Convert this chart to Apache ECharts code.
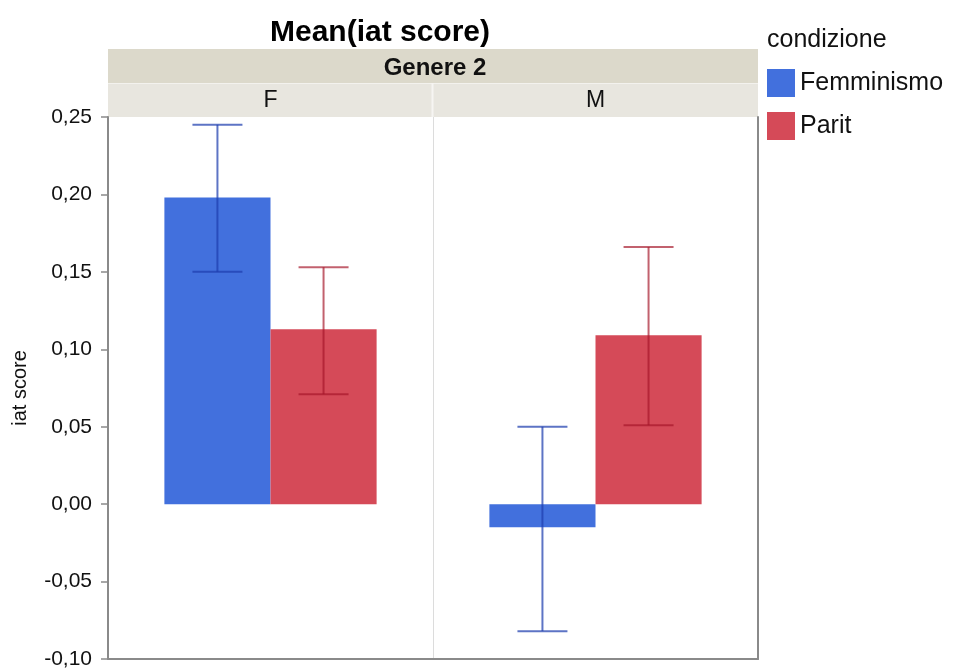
<!DOCTYPE html>
<html>
<head>
<meta charset="utf-8">
<title>Mean(iat score)</title>
<script src="https://cdn.jsdelivr.net/npm/echarts@6/dist/echarts.min.js"></script>
<style>
  html, body { margin: 0; padding: 0; background: #fff; }
  #chart { width: 953px; height: 668px; }
</style>
</head>
<body>
<div id="chart"></div>
<script>
// data
var genere = ['F', 'M'];
var condizioni = ['Femminismo', 'Parit'];
var meanFemminismo = [0.198, -0.015];
var meanParit = [0.113, 0.109];
var loFemminismo = [0.150, -0.082];
var hiFemminismo = [0.245, 0.050];
var loParit = [0.071, 0.051];
var hiParit = [0.153, 0.166];
var yTicks = { min: -0.10, max: 0.25, step: 0.05 };

var FONT = "'Helvetica Neue', Helvetica, 'Liberation Sans', Arial, sans-serif";
var colors = ['#4270dd', '#d54a58'];
var errColors = ['rgba(30,62,175,0.72)', 'rgba(165,22,42,0.68)'];
var catGap = 0.347;

function errData(lo, hi) {
  var out = [];
  for (var i = 0; i < lo.length; i++) {
    out.push([i, lo[i], hi[i]]);
  }
  return out;
}

function errRenderer(side, color) {
  return function (params, api) {
    var xi = api.value(0);
    var pLo = api.coord([xi, api.value(1)]);
    var pHi = api.coord([xi, api.value(2)]);
    var band = api.size([1, 0])[0];
    var barW = band * (1 - catGap) / 2;
    var cx = pLo[0] + side * barW / 2;
    var cap = 25;
    var st = { stroke: color, lineWidth: 2 };
    return {
      type: 'group',
      children: [
        { type: 'line', shape: { x1: cx, y1: pLo[1], x2: cx, y2: pHi[1] }, style: st },
        { type: 'line', shape: { x1: cx - cap, y1: pHi[1], x2: cx + cap, y2: pHi[1] }, style: st },
        { type: 'line', shape: { x1: cx - cap, y1: pLo[1], x2: cx + cap, y2: pLo[1] }, style: st }
      ]
    };
  };
}

var chart = echarts.init(document.getElementById('chart'));

var option = {
  backgroundColor: '#fff',
  animation: false,
  textStyle: { fontFamily: FONT },
  grid: { left: 108, right: 195, top: 117, bottom: 9, containLabel: false, outerBoundsMode: 'none' },
  legend: {
    orient: 'vertical',
    left: 767,
    top: 69,
    padding: 0,
    itemWidth: 28,
    itemHeight: 28,
    itemGap: 15,
    icon: 'rect',
    data: condizioni,
    textStyle: { fontSize: 25, color: '#111', fontFamily: FONT }
  },
  graphic: [
    { type: 'rect', shape: { x: 108, y: 49, width: 650, height: 34 }, style: { fill: '#dcd9cb' }, z: 0 },
    { type: 'rect', shape: { x: 108, y: 83, width: 650, height: 34 }, style: { fill: '#e8e6df' }, z: 0 },
    { type: 'line', shape: { x1: 108, y1: 83.5, x2: 758, y2: 83.5 }, style: { stroke: '#f3f2ee', lineWidth: 1 }, z: 1 },
    { type: 'line', shape: { x1: 432.5, y1: 83, x2: 432.5, y2: 117 }, style: { stroke: '#f6f5f2', lineWidth: 2 }, z: 1 },
    {
      type: 'text', x: 380, y: 33, z: 2,
      style: { text: 'Mean(iat score)', align: 'center', verticalAlign: 'middle',
        font: 'bold 30px ' + FONT, fill: '#000' }
    },
    {
      type: 'text', x: 435, y: 68, z: 2,
      style: { text: 'Genere 2', align: 'center', verticalAlign: 'middle',
        font: 'bold 24px ' + FONT, fill: '#111' }
    },
    {
      type: 'text', x: 767, y: 40, z: 2,
      style: { text: 'condizione', align: 'left', verticalAlign: 'middle',
        font: '25px ' + FONT, fill: '#111' }
    }
  ],
  xAxis: [
    {
      type: 'category',
      data: genere,
      position: 'bottom',
      axisLine: { show: true, onZero: false, lineStyle: { color: '#8a8a8a', width: 2 } },
      axisTick: { show: false },
      axisLabel: { show: false },
      splitLine: { show: true, lineStyle: { color: '#dcdcdc', width: 1 } }
    },
    {
      type: 'category',
      data: genere,
      position: 'top',
      axisLine: { show: false, onZero: false },
      axisTick: { show: false },
      axisLabel: { show: true, fontSize: 23, color: '#111', margin: 5, fontFamily: FONT },
      splitLine: { show: false }
    }
  ],
  yAxis: [
    {
      type: 'value',
      min: yTicks.min,
      max: yTicks.max,
      interval: yTicks.step,
      name: 'iat score',
      nameLocation: 'middle',
      nameRotate: 90,
      nameGap: 78,
      nameTextStyle: { fontSize: 20, color: '#111', fontFamily: FONT },
      axisLine: { show: true, onZero: false, lineStyle: { color: '#8a8a8a', width: 2 } },
      axisTick: { show: true, inside: false, length: 7, lineStyle: { color: '#8a8a8a', width: 1.5 } },
      axisLabel: {
        fontSize: 21, color: '#111', margin: 16, fontFamily: FONT,
        formatter: function (v) { return v.toFixed(2).replace('.', ','); }
      },
      splitLine: { show: false }
    },
    {
      type: 'value',
      position: 'right',
      min: yTicks.min,
      max: yTicks.max,
      interval: yTicks.step,
      axisLine: { show: true, onZero: false, lineStyle: { color: '#8a8a8a', width: 2 } },
      axisTick: { show: false },
      axisLabel: { show: false },
      splitLine: { show: false }
    }
  ],
  series: [
    {
      name: condizioni[0],
      type: 'bar',
      data: meanFemminismo,
      barGap: '0%',
      barCategoryGap: (catGap * 100) + '%',
      itemStyle: { color: colors[0], borderWidth: 0 },
      z: 2
    },
    {
      name: condizioni[1],
      type: 'bar',
      data: meanParit,
      barGap: '0%',
      barCategoryGap: (catGap * 100) + '%',
      itemStyle: { color: colors[1], borderWidth: 0 },
      z: 2
    },
    {
      type: 'custom',
      data: errData(loFemminismo, hiFemminismo),
      renderItem: errRenderer(-1, errColors[0]),
      z: 5,
      silent: true
    },
    {
      type: 'custom',
      data: errData(loParit, hiParit),
      renderItem: errRenderer(1, errColors[1]),
      z: 5,
      silent: true
    }
  ]
};

chart.setOption(option);
</script>
</body>
</html>
